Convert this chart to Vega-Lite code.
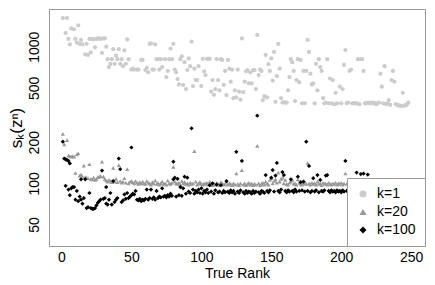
{
"$schema":"https://vega.github.io/schema/vega-lite/v6.json",
"width":376,"height":237,
"autosize":{"type":"none"},
"padding":{"left":49,"top":9,"right":10,"bottom":39},
"config":{"view":{"stroke":"#9a9a9a","strokeWidth":1},"font":"Liberation Sans"},
"data":{"values":[
{"r":1,"v":1620,"k":"k=1"},{"r":3,"v":1260,"k":"k=1"},{"r":4,"v":1620,"k":"k=1"},{"r":5,"v":1140,"k":"k=1"},{"r":6,"v":1040,"k":"k=1"},{"r":7,"v":1360,"k":"k=1"},{"r":9,"v":1340,"k":"k=1"},{"r":10,"v":1140,"k":"k=1"},{"r":11,"v":1070,"k":"k=1"},{"r":12,"v":1430,"k":"k=1"},{"r":13,"v":1050,"k":"k=1"},{"r":14,"v":1120,"k":"k=1"},{"r":15,"v":1040,"k":"k=1"},{"r":17,"v":880,"k":"k=1"},{"r":18,"v":1050,"k":"k=1"},{"r":19,"v":870,"k":"k=1"},{"r":20,"v":1140,"k":"k=1"},{"r":21,"v":910,"k":"k=1"},{"r":22,"v":1140,"k":"k=1"},{"r":23,"v":1130,"k":"k=1"},{"r":24,"v":990,"k":"k=1"},{"r":25,"v":1140,"k":"k=1"},{"r":26,"v":1150,"k":"k=1"},{"r":27,"v":1150,"k":"k=1"},{"r":28,"v":1140,"k":"k=1"},{"r":29,"v":900,"k":"k=1"},{"r":30,"v":1150,"k":"k=1"},{"r":31,"v":1150,"k":"k=1"},{"r":32,"v":1000,"k":"k=1"},{"r":33,"v":810,"k":"k=1"},{"r":34,"v":710,"k":"k=1"},{"r":35,"v":750,"k":"k=1"},{"r":36,"v":810,"k":"k=1"},{"r":37,"v":960,"k":"k=1"},{"r":38,"v":750,"k":"k=1"},{"r":39,"v":860,"k":"k=1"},{"r":40,"v":810,"k":"k=1"},{"r":41,"v":960,"k":"k=1"},{"r":42,"v":750,"k":"k=1"},{"r":43,"v":810,"k":"k=1"},{"r":44,"v":720,"k":"k=1"},{"r":45,"v":940,"k":"k=1"},{"r":46,"v":750,"k":"k=1"},{"r":47,"v":1130,"k":"k=1"},{"r":48,"v":810,"k":"k=1"},{"r":50,"v":680,"k":"k=1"},{"r":51,"v":690,"k":"k=1"},{"r":52,"v":680,"k":"k=1"},{"r":54,"v":680,"k":"k=1"},{"r":55,"v":680,"k":"k=1"},{"r":57,"v":800,"k":"k=1"},{"r":58,"v":800,"k":"k=1"},{"r":60,"v":675,"k":"k=1"},{"r":61,"v":700,"k":"k=1"},{"r":62,"v":650,"k":"k=1"},{"r":63,"v":1050,"k":"k=1"},{"r":64,"v":1060,"k":"k=1"},{"r":65,"v":680,"k":"k=1"},{"r":66,"v":680,"k":"k=1"},{"r":67,"v":1040,"k":"k=1"},{"r":68,"v":810,"k":"k=1"},{"r":69,"v":810,"k":"k=1"},{"r":70,"v":680,"k":"k=1"},{"r":71,"v":810,"k":"k=1"},{"r":72,"v":710,"k":"k=1"},{"r":74,"v":810,"k":"k=1"},{"r":75,"v":600,"k":"k=1"},{"r":76,"v":665,"k":"k=1"},{"r":77,"v":810,"k":"k=1"},{"r":78,"v":970,"k":"k=1"},{"r":79,"v":810,"k":"k=1"},{"r":80,"v":1050,"k":"k=1"},{"r":81,"v":680,"k":"k=1"},{"r":82,"v":650,"k":"k=1"},{"r":83,"v":580,"k":"k=1"},{"r":84,"v":530,"k":"k=1"},{"r":85,"v":810,"k":"k=1"},{"r":86,"v":850,"k":"k=1"},{"r":87,"v":525,"k":"k=1"},{"r":88,"v":770,"k":"k=1"},{"r":89,"v":490,"k":"k=1"},{"r":90,"v":675,"k":"k=1"},{"r":91,"v":820,"k":"k=1"},{"r":92,"v":720,"k":"k=1"},{"r":93,"v":1090,"k":"k=1"},{"r":94,"v":515,"k":"k=1"},{"r":95,"v":690,"k":"k=1"},{"r":96,"v":570,"k":"k=1"},{"r":97,"v":570,"k":"k=1"},{"r":98,"v":720,"k":"k=1"},{"r":100,"v":515,"k":"k=1"},{"r":101,"v":815,"k":"k=1"},{"r":102,"v":660,"k":"k=1"},{"r":103,"v":620,"k":"k=1"},{"r":104,"v":815,"k":"k=1"},{"r":105,"v":815,"k":"k=1"},{"r":106,"v":815,"k":"k=1"},{"r":107,"v":470,"k":"k=1"},{"r":108,"v":570,"k":"k=1"},{"r":109,"v":445,"k":"k=1"},{"r":110,"v":490,"k":"k=1"},{"r":111,"v":810,"k":"k=1"},{"r":112,"v":570,"k":"k=1"},{"r":113,"v":480,"k":"k=1"},{"r":114,"v":810,"k":"k=1"},{"r":115,"v":800,"k":"k=1"},{"r":116,"v":525,"k":"k=1"},{"r":117,"v":665,"k":"k=1"},{"r":118,"v":443,"k":"k=1"},{"r":119,"v":800,"k":"k=1"},{"r":120,"v":690,"k":"k=1"},{"r":121,"v":555,"k":"k=1"},{"r":122,"v":680,"k":"k=1"},{"r":123,"v":420,"k":"k=1"},{"r":124,"v":480,"k":"k=1"},{"r":125,"v":425,"k":"k=1"},{"r":126,"v":680,"k":"k=1"},{"r":127,"v":470,"k":"k=1"},{"r":128,"v":410,"k":"k=1"},{"r":129,"v":1150,"k":"k=1"},{"r":130,"v":465,"k":"k=1"},{"r":131,"v":555,"k":"k=1"},{"r":132,"v":660,"k":"k=1"},{"r":133,"v":675,"k":"k=1"},{"r":134,"v":540,"k":"k=1"},{"r":135,"v":650,"k":"k=1"},{"r":136,"v":540,"k":"k=1"},{"r":137,"v":675,"k":"k=1"},{"r":138,"v":675,"k":"k=1"},{"r":139,"v":490,"k":"k=1"},{"r":140,"v":1220,"k":"k=1"},{"r":141,"v":620,"k":"k=1"},{"r":142,"v":680,"k":"k=1"},{"r":143,"v":665,"k":"k=1"},{"r":144,"v":407,"k":"k=1"},{"r":145,"v":435,"k":"k=1"},{"r":146,"v":870,"k":"k=1"},{"r":147,"v":425,"k":"k=1"},{"r":148,"v":745,"k":"k=1"},{"r":149,"v":665,"k":"k=1"},{"r":150,"v":820,"k":"k=1"},{"r":151,"v":565,"k":"k=1"},{"r":152,"v":915,"k":"k=1"},{"r":153,"v":395,"k":"k=1"},{"r":154,"v":610,"k":"k=1"},{"r":155,"v":1050,"k":"k=1"},{"r":156,"v":690,"k":"k=1"},{"r":157,"v":420,"k":"k=1"},{"r":158,"v":390,"k":"k=1"},{"r":159,"v":392,"k":"k=1"},{"r":160,"v":390,"k":"k=1"},{"r":161,"v":390,"k":"k=1"},{"r":162,"v":480,"k":"k=1"},{"r":163,"v":600,"k":"k=1"},{"r":164,"v":810,"k":"k=1"},{"r":165,"v":770,"k":"k=1"},{"r":166,"v":665,"k":"k=1"},{"r":167,"v":400,"k":"k=1"},{"r":168,"v":570,"k":"k=1"},{"r":169,"v":810,"k":"k=1"},{"r":170,"v":550,"k":"k=1"},{"r":171,"v":800,"k":"k=1"},{"r":172,"v":385,"k":"k=1"},{"r":173,"v":665,"k":"k=1"},{"r":174,"v":385,"k":"k=1"},{"r":175,"v":665,"k":"k=1"},{"r":176,"v":1120,"k":"k=1"},{"r":177,"v":915,"k":"k=1"},{"r":178,"v":635,"k":"k=1"},{"r":179,"v":530,"k":"k=1"},{"r":180,"v":540,"k":"k=1"},{"r":181,"v":385,"k":"k=1"},{"r":182,"v":750,"k":"k=1"},{"r":183,"v":480,"k":"k=1"},{"r":184,"v":810,"k":"k=1"},{"r":185,"v":710,"k":"k=1"},{"r":186,"v":665,"k":"k=1"},{"r":187,"v":420,"k":"k=1"},{"r":188,"v":385,"k":"k=1"},{"r":189,"v":390,"k":"k=1"},{"r":190,"v":810,"k":"k=1"},{"r":191,"v":385,"k":"k=1"},{"r":192,"v":585,"k":"k=1"},{"r":193,"v":385,"k":"k=1"},{"r":194,"v":570,"k":"k=1"},{"r":195,"v":380,"k":"k=1"},{"r":196,"v":460,"k":"k=1"},{"r":197,"v":385,"k":"k=1"},{"r":199,"v":510,"k":"k=1"},{"r":200,"v":385,"k":"k=1"},{"r":201,"v":490,"k":"k=1"},{"r":202,"v":735,"k":"k=1"},{"r":203,"v":945,"k":"k=1"},{"r":204,"v":385,"k":"k=1"},{"r":205,"v":390,"k":"k=1"},{"r":206,"v":665,"k":"k=1"},{"r":207,"v":680,"k":"k=1"},{"r":208,"v":385,"k":"k=1"},{"r":209,"v":385,"k":"k=1"},{"r":210,"v":385,"k":"k=1"},{"r":211,"v":385,"k":"k=1"},{"r":212,"v":810,"k":"k=1"},{"r":213,"v":380,"k":"k=1"},{"r":214,"v":810,"k":"k=1"},{"r":215,"v":810,"k":"k=1"},{"r":216,"v":665,"k":"k=1"},{"r":217,"v":385,"k":"k=1"},{"r":218,"v":385,"k":"k=1"},{"r":219,"v":390,"k":"k=1"},{"r":220,"v":385,"k":"k=1"},{"r":221,"v":390,"k":"k=1"},{"r":222,"v":385,"k":"k=1"},{"r":223,"v":390,"k":"k=1"},{"r":224,"v":385,"k":"k=1"},{"r":225,"v":380,"k":"k=1"},{"r":226,"v":385,"k":"k=1"},{"r":227,"v":390,"k":"k=1"},{"r":228,"v":635,"k":"k=1"},{"r":229,"v":510,"k":"k=1"},{"r":230,"v":385,"k":"k=1"},{"r":231,"v":720,"k":"k=1"},{"r":232,"v":380,"k":"k=1"},{"r":233,"v":385,"k":"k=1"},{"r":234,"v":407,"k":"k=1"},{"r":235,"v":375,"k":"k=1"},{"r":236,"v":570,"k":"k=1"},{"r":237,"v":665,"k":"k=1"},{"r":238,"v":555,"k":"k=1"},{"r":239,"v":380,"k":"k=1"},{"r":240,"v":374,"k":"k=1"},{"r":241,"v":372,"k":"k=1"},{"r":242,"v":370,"k":"k=1"},{"r":243,"v":368,"k":"k=1"},{"r":244,"v":460,"k":"k=1"},{"r":245,"v":370,"k":"k=1"},{"r":246,"v":372,"k":"k=1"},{"r":247,"v":378,"k":"k=1"},{"r":248,"v":390,"k":"k=1"},
{"r":1,"v":230,"k":"k=20"},{"r":2,"v":193,"k":"k=20"},{"r":4,"v":207,"k":"k=20"},{"r":5,"v":160,"k":"k=20"},{"r":6,"v":158,"k":"k=20"},{"r":7,"v":157,"k":"k=20"},{"r":8,"v":158,"k":"k=20"},{"r":9,"v":157,"k":"k=20"},{"r":10,"v":119,"k":"k=20"},{"r":11,"v":163,"k":"k=20"},{"r":12,"v":166,"k":"k=20"},{"r":13,"v":114,"k":"k=20"},{"r":14,"v":116,"k":"k=20"},{"r":15,"v":112,"k":"k=20"},{"r":16,"v":135,"k":"k=20"},{"r":17,"v":111,"k":"k=20"},{"r":18,"v":110,"k":"k=20"},{"r":19,"v":109,"k":"k=20"},{"r":20,"v":138,"k":"k=20"},{"r":21,"v":108,"k":"k=20"},{"r":22,"v":107,"k":"k=20"},{"r":23,"v":110,"k":"k=20"},{"r":24,"v":106,"k":"k=20"},{"r":25,"v":108,"k":"k=20"},{"r":26,"v":111,"k":"k=20"},{"r":27,"v":112,"k":"k=20"},{"r":28,"v":113,"k":"k=20"},{"r":29,"v":144,"k":"k=20"},{"r":30,"v":112,"k":"k=20"},{"r":31,"v":108,"k":"k=20"},{"r":32,"v":105,"k":"k=20"},{"r":33,"v":103,"k":"k=20"},{"r":34,"v":106,"k":"k=20"},{"r":35,"v":104,"k":"k=20"},{"r":36,"v":102,"k":"k=20"},{"r":37,"v":130,"k":"k=20"},{"r":38,"v":103,"k":"k=20"},{"r":39,"v":108,"k":"k=20"},{"r":40,"v":102,"k":"k=20"},{"r":41,"v":136,"k":"k=20"},{"r":42,"v":104,"k":"k=20"},{"r":43,"v":101,"k":"k=20"},{"r":44,"v":103,"k":"k=20"},{"r":45,"v":109,"k":"k=20"},{"r":46,"v":101,"k":"k=20"},{"r":47,"v":127,"k":"k=20"},{"r":48,"v":100,"k":"k=20"},{"r":49,"v":103,"k":"k=20"},{"r":50,"v":104,"k":"k=20"},{"r":51,"v":102,"k":"k=20"},{"r":52,"v":100,"k":"k=20"},{"r":53,"v":104,"k":"k=20"},{"r":54,"v":101,"k":"k=20"},{"r":55,"v":99,"k":"k=20"},{"r":56,"v":102,"k":"k=20"},{"r":57,"v":100,"k":"k=20"},{"r":58,"v":103,"k":"k=20"},{"r":59,"v":100,"k":"k=20"},{"r":60,"v":99,"k":"k=20"},{"r":61,"v":104,"k":"k=20"},{"r":62,"v":101,"k":"k=20"},{"r":63,"v":100,"k":"k=20"},{"r":64,"v":98,"k":"k=20"},{"r":65,"v":102,"k":"k=20"},{"r":66,"v":100,"k":"k=20"},{"r":67,"v":105,"k":"k=20"},{"r":68,"v":99,"k":"k=20"},{"r":69,"v":101,"k":"k=20"},{"r":70,"v":98,"k":"k=20"},{"r":71,"v":100,"k":"k=20"},{"r":72,"v":103,"k":"k=20"},{"r":73,"v":99,"k":"k=20"},{"r":74,"v":100,"k":"k=20"},{"r":75,"v":98,"k":"k=20"},{"r":76,"v":105,"k":"k=20"},{"r":77,"v":100,"k":"k=20"},{"r":78,"v":99,"k":"k=20"},{"r":79,"v":101,"k":"k=20"},{"r":80,"v":132,"k":"k=20"},{"r":81,"v":103,"k":"k=20"},{"r":82,"v":100,"k":"k=20"},{"r":83,"v":99,"k":"k=20"},{"r":84,"v":101,"k":"k=20"},{"r":85,"v":98,"k":"k=20"},{"r":86,"v":104,"k":"k=20"},{"r":87,"v":100,"k":"k=20"},{"r":88,"v":102,"k":"k=20"},{"r":89,"v":99,"k":"k=20"},{"r":90,"v":100,"k":"k=20"},{"r":91,"v":98,"k":"k=20"},{"r":92,"v":101,"k":"k=20"},{"r":93,"v":99,"k":"k=20"},{"r":94,"v":100,"k":"k=20"},{"r":95,"v":172,"k":"k=20"},{"r":96,"v":103,"k":"k=20"},{"r":97,"v":98,"k":"k=20"},{"r":98,"v":100,"k":"k=20"},{"r":99,"v":102,"k":"k=20"},{"r":100,"v":99,"k":"k=20"},{"r":101,"v":98,"k":"k=20"},{"r":102,"v":100,"k":"k=20"},{"r":103,"v":99,"k":"k=20"},{"r":104,"v":101,"k":"k=20"},{"r":105,"v":98,"k":"k=20"},{"r":106,"v":103,"k":"k=20"},{"r":107,"v":99,"k":"k=20"},{"r":108,"v":97,"k":"k=20"},{"r":109,"v":100,"k":"k=20"},{"r":110,"v":98,"k":"k=20"},{"r":111,"v":101,"k":"k=20"},{"r":112,"v":99,"k":"k=20"},{"r":113,"v":97,"k":"k=20"},{"r":114,"v":102,"k":"k=20"},{"r":115,"v":100,"k":"k=20"},{"r":116,"v":98,"k":"k=20"},{"r":117,"v":99,"k":"k=20"},{"r":118,"v":103,"k":"k=20"},{"r":119,"v":98,"k":"k=20"},{"r":120,"v":100,"k":"k=20"},{"r":121,"v":99,"k":"k=20"},{"r":122,"v":97,"k":"k=20"},{"r":123,"v":100,"k":"k=20"},{"r":124,"v":98,"k":"k=20"},{"r":125,"v":118,"k":"k=20"},{"r":126,"v":99,"k":"k=20"},{"r":127,"v":97,"k":"k=20"},{"r":128,"v":100,"k":"k=20"},{"r":129,"v":125,"k":"k=20"},{"r":130,"v":98,"k":"k=20"},{"r":131,"v":100,"k":"k=20"},{"r":132,"v":97,"k":"k=20"},{"r":133,"v":99,"k":"k=20"},{"r":134,"v":101,"k":"k=20"},{"r":135,"v":98,"k":"k=20"},{"r":136,"v":100,"k":"k=20"},{"r":137,"v":97,"k":"k=20"},{"r":138,"v":99,"k":"k=20"},{"r":139,"v":98,"k":"k=20"},{"r":140,"v":188,"k":"k=20"},{"r":141,"v":100,"k":"k=20"},{"r":142,"v":97,"k":"k=20"},{"r":143,"v":99,"k":"k=20"},{"r":144,"v":101,"k":"k=20"},{"r":145,"v":98,"k":"k=20"},{"r":146,"v":103,"k":"k=20"},{"r":147,"v":100,"k":"k=20"},{"r":148,"v":98,"k":"k=20"},{"r":149,"v":106,"k":"k=20"},{"r":150,"v":109,"k":"k=20"},{"r":151,"v":100,"k":"k=20"},{"r":152,"v":104,"k":"k=20"},{"r":153,"v":107,"k":"k=20"},{"r":154,"v":101,"k":"k=20"},{"r":155,"v":120,"k":"k=20"},{"r":156,"v":103,"k":"k=20"},{"r":157,"v":108,"k":"k=20"},{"r":158,"v":110,"k":"k=20"},{"r":159,"v":100,"k":"k=20"},{"r":160,"v":106,"k":"k=20"},{"r":161,"v":99,"k":"k=20"},{"r":162,"v":98,"k":"k=20"},{"r":163,"v":101,"k":"k=20"},{"r":164,"v":103,"k":"k=20"},{"r":165,"v":106,"k":"k=20"},{"r":166,"v":99,"k":"k=20"},{"r":167,"v":100,"k":"k=20"},{"r":168,"v":98,"k":"k=20"},{"r":169,"v":107,"k":"k=20"},{"r":170,"v":101,"k":"k=20"},{"r":171,"v":99,"k":"k=20"},{"r":172,"v":98,"k":"k=20"},{"r":173,"v":100,"k":"k=20"},{"r":174,"v":102,"k":"k=20"},{"r":175,"v":99,"k":"k=20"},{"r":176,"v":141,"k":"k=20"},{"r":177,"v":100,"k":"k=20"},{"r":178,"v":98,"k":"k=20"},{"r":179,"v":101,"k":"k=20"},{"r":180,"v":99,"k":"k=20"},{"r":181,"v":100,"k":"k=20"},{"r":182,"v":98,"k":"k=20"},{"r":183,"v":103,"k":"k=20"},{"r":184,"v":99,"k":"k=20"},{"r":185,"v":100,"k":"k=20"},{"r":186,"v":97,"k":"k=20"},{"r":187,"v":101,"k":"k=20"},{"r":188,"v":99,"k":"k=20"},{"r":189,"v":100,"k":"k=20"},{"r":190,"v":98,"k":"k=20"},{"r":191,"v":101,"k":"k=20"},{"r":192,"v":99,"k":"k=20"},{"r":193,"v":98,"k":"k=20"},{"r":194,"v":100,"k":"k=20"},{"r":195,"v":99,"k":"k=20"},{"r":196,"v":101,"k":"k=20"},{"r":197,"v":98,"k":"k=20"},{"r":198,"v":100,"k":"k=20"},{"r":199,"v":99,"k":"k=20"},{"r":200,"v":101,"k":"k=20"},{"r":201,"v":98,"k":"k=20"},{"r":202,"v":100,"k":"k=20"},{"r":203,"v":118,"k":"k=20"},{"r":204,"v":99,"k":"k=20"},{"r":205,"v":101,"k":"k=20"},
{"r":1,"v":202,"k":"k=100"},{"r":2,"v":152,"k":"k=100"},{"r":3,"v":150,"k":"k=100"},{"r":4,"v":148,"k":"k=100"},{"r":5,"v":146,"k":"k=100"},{"r":6,"v":140,"k":"k=100"},{"r":3,"v":96,"k":"k=100"},{"r":5,"v":90,"k":"k=100"},{"r":6,"v":82,"k":"k=100"},{"r":7,"v":92,"k":"k=100"},{"r":8,"v":94,"k":"k=100"},{"r":9,"v":94,"k":"k=100"},{"r":10,"v":76,"k":"k=100"},{"r":11,"v":88,"k":"k=100"},{"r":12,"v":74,"k":"k=100"},{"r":13,"v":80,"k":"k=100"},{"r":14,"v":76,"k":"k=100"},{"r":14,"v":107,"k":"k=100"},{"r":15,"v":71,"k":"k=100"},{"r":16,"v":78,"k":"k=100"},{"r":17,"v":107,"k":"k=100"},{"r":18,"v":66,"k":"k=100"},{"r":19,"v":67,"k":"k=100"},{"r":20,"v":85,"k":"k=100"},{"r":21,"v":66,"k":"k=100"},{"r":22,"v":65,"k":"k=100"},{"r":23,"v":65,"k":"k=100"},{"r":24,"v":66,"k":"k=100"},{"r":25,"v":69,"k":"k=100"},{"r":26,"v":72,"k":"k=100"},{"r":27,"v":74,"k":"k=100"},{"r":28,"v":76,"k":"k=100"},{"r":29,"v":124,"k":"k=100"},{"r":30,"v":77,"k":"k=100"},{"r":31,"v":78,"k":"k=100"},{"r":32,"v":94,"k":"k=100"},{"r":32,"v":71,"k":"k=100"},{"r":33,"v":70,"k":"k=100"},{"r":34,"v":76,"k":"k=100"},{"r":35,"v":85,"k":"k=100"},{"r":36,"v":70,"k":"k=100"},{"r":37,"v":104,"k":"k=100"},{"r":38,"v":73,"k":"k=100"},{"r":39,"v":76,"k":"k=100"},{"r":40,"v":78,"k":"k=100"},{"r":41,"v":152,"k":"k=100"},{"r":42,"v":127,"k":"k=100"},{"r":43,"v":73,"k":"k=100"},{"r":44,"v":75,"k":"k=100"},{"r":45,"v":83,"k":"k=100"},{"r":46,"v":77,"k":"k=100"},{"r":47,"v":85,"k":"k=100"},{"r":48,"v":78,"k":"k=100"},{"r":49,"v":80,"k":"k=100"},{"r":50,"v":183,"k":"k=100"},{"r":50,"v":82,"k":"k=100"},{"r":51,"v":84,"k":"k=100"},{"r":52,"v":83,"k":"k=100"},{"r":53,"v":88,"k":"k=100"},{"r":54,"v":76,"k":"k=100"},{"r":55,"v":75,"k":"k=100"},{"r":56,"v":77,"k":"k=100"},{"r":57,"v":74,"k":"k=100"},{"r":58,"v":76,"k":"k=100"},{"r":59,"v":75,"k":"k=100"},{"r":60,"v":77,"k":"k=100"},{"r":61,"v":90,"k":"k=100"},{"r":62,"v":76,"k":"k=100"},{"r":63,"v":78,"k":"k=100"},{"r":64,"v":90,"k":"k=100"},{"r":65,"v":77,"k":"k=100"},{"r":66,"v":79,"k":"k=100"},{"r":67,"v":76,"k":"k=100"},{"r":68,"v":88,"k":"k=100"},{"r":69,"v":78,"k":"k=100"},{"r":70,"v":80,"k":"k=100"},{"r":71,"v":79,"k":"k=100"},{"r":72,"v":92,"k":"k=100"},{"r":73,"v":80,"k":"k=100"},{"r":74,"v":81,"k":"k=100"},{"r":75,"v":79,"k":"k=100"},{"r":76,"v":82,"k":"k=100"},{"r":77,"v":80,"k":"k=100"},{"r":78,"v":84,"k":"k=100"},{"r":79,"v":81,"k":"k=100"},{"r":80,"v":144,"k":"k=100"},{"r":80,"v":107,"k":"k=100"},{"r":81,"v":110,"k":"k=100"},{"r":82,"v":80,"k":"k=100"},{"r":83,"v":108,"k":"k=100"},{"r":84,"v":82,"k":"k=100"},{"r":85,"v":94,"k":"k=100"},{"r":86,"v":81,"k":"k=100"},{"r":87,"v":92,"k":"k=100"},{"r":88,"v":112,"k":"k=100"},{"r":89,"v":84,"k":"k=100"},{"r":90,"v":110,"k":"k=100"},{"r":91,"v":87,"k":"k=100"},{"r":92,"v":85,"k":"k=100"},{"r":93,"v":253,"k":"k=100"},{"r":94,"v":90,"k":"k=100"},{"r":95,"v":84,"k":"k=100"},{"r":96,"v":88,"k":"k=100"},{"r":97,"v":86,"k":"k=100"},{"r":98,"v":90,"k":"k=100"},{"r":99,"v":85,"k":"k=100"},{"r":100,"v":92,"k":"k=100"},{"r":101,"v":84,"k":"k=100"},{"r":102,"v":88,"k":"k=100"},{"r":103,"v":86,"k":"k=100"},{"r":104,"v":90,"k":"k=100"},{"r":105,"v":85,"k":"k=100"},{"r":106,"v":97,"k":"k=100"},{"r":107,"v":87,"k":"k=100"},{"r":108,"v":100,"k":"k=100"},{"r":109,"v":84,"k":"k=100"},{"r":110,"v":89,"k":"k=100"},{"r":111,"v":98,"k":"k=100"},{"r":112,"v":86,"k":"k=100"},{"r":113,"v":87,"k":"k=100"},{"r":114,"v":97,"k":"k=100"},{"r":115,"v":85,"k":"k=100"},{"r":116,"v":88,"k":"k=100"},{"r":117,"v":86,"k":"k=100"},{"r":118,"v":104,"k":"k=100"},{"r":119,"v":87,"k":"k=100"},{"r":120,"v":85,"k":"k=100"},{"r":121,"v":89,"k":"k=100"},{"r":122,"v":86,"k":"k=100"},{"r":123,"v":88,"k":"k=100"},{"r":124,"v":84,"k":"k=100"},{"r":125,"v":170,"k":"k=100"},{"r":126,"v":87,"k":"k=100"},{"r":127,"v":85,"k":"k=100"},{"r":128,"v":89,"k":"k=100"},{"r":129,"v":146,"k":"k=100"},{"r":130,"v":86,"k":"k=100"},{"r":131,"v":84,"k":"k=100"},{"r":132,"v":88,"k":"k=100"},{"r":133,"v":85,"k":"k=100"},{"r":134,"v":87,"k":"k=100"},{"r":135,"v":86,"k":"k=100"},{"r":136,"v":84,"k":"k=100"},{"r":137,"v":88,"k":"k=100"},{"r":138,"v":85,"k":"k=100"},{"r":139,"v":87,"k":"k=100"},{"r":140,"v":313,"k":"k=100"},{"r":141,"v":86,"k":"k=100"},{"r":142,"v":84,"k":"k=100"},{"r":143,"v":88,"k":"k=100"},{"r":144,"v":87,"k":"k=100"},{"r":145,"v":85,"k":"k=100"},{"r":146,"v":115,"k":"k=100"},{"r":147,"v":88,"k":"k=100"},{"r":148,"v":86,"k":"k=100"},{"r":149,"v":89,"k":"k=100"},{"r":150,"v":110,"k":"k=100"},{"r":151,"v":125,"k":"k=100"},{"r":152,"v":87,"k":"k=100"},{"r":153,"v":114,"k":"k=100"},{"r":154,"v":141,"k":"k=100"},{"r":155,"v":88,"k":"k=100"},{"r":156,"v":86,"k":"k=100"},{"r":157,"v":90,"k":"k=100"},{"r":158,"v":121,"k":"k=100"},{"r":159,"v":115,"k":"k=100"},{"r":160,"v":88,"k":"k=100"},{"r":161,"v":86,"k":"k=100"},{"r":162,"v":89,"k":"k=100"},{"r":163,"v":87,"k":"k=100"},{"r":164,"v":107,"k":"k=100"},{"r":165,"v":88,"k":"k=100"},{"r":166,"v":86,"k":"k=100"},{"r":167,"v":90,"k":"k=100"},{"r":168,"v":87,"k":"k=100"},{"r":169,"v":112,"k":"k=100"},{"r":170,"v":88,"k":"k=100"},{"r":171,"v":102,"k":"k=100"},{"r":172,"v":89,"k":"k=100"},{"r":173,"v":103,"k":"k=100"},{"r":174,"v":87,"k":"k=100"},{"r":175,"v":202,"k":"k=100"},{"r":176,"v":88,"k":"k=100"},{"r":177,"v":134,"k":"k=100"},{"r":178,"v":86,"k":"k=100"},{"r":179,"v":88,"k":"k=100"},{"r":180,"v":109,"k":"k=100"},{"r":181,"v":87,"k":"k=100"},{"r":182,"v":89,"k":"k=100"},{"r":183,"v":115,"k":"k=100"},{"r":184,"v":86,"k":"k=100"},{"r":185,"v":106,"k":"k=100"},{"r":186,"v":88,"k":"k=100"},{"r":187,"v":87,"k":"k=100"},{"r":188,"v":89,"k":"k=100"},{"r":189,"v":114,"k":"k=100"},{"r":190,"v":115,"k":"k=100"},{"r":191,"v":88,"k":"k=100"},{"r":192,"v":86,"k":"k=100"},{"r":193,"v":89,"k":"k=100"},{"r":194,"v":87,"k":"k=100"},{"r":195,"v":88,"k":"k=100"},{"r":196,"v":86,"k":"k=100"},{"r":197,"v":89,"k":"k=100"},{"r":198,"v":87,"k":"k=100"},{"r":199,"v":88,"k":"k=100"},{"r":200,"v":86,"k":"k=100"},{"r":201,"v":89,"k":"k=100"},{"r":202,"v":87,"k":"k=100"},{"r":203,"v":146,"k":"k=100"},{"r":204,"v":88,"k":"k=100"},{"r":205,"v":90,"k":"k=100"},{"r":211,"v":120,"k":"k=100"},{"r":214,"v":117,"k":"k=100"},{"r":216,"v":118,"k":"k=100"},{"r":219,"v":116,"k":"k=100"}
]},
"mark":{"type":"point","filled":true,"size":18,"opacity":1},
"encoding":{
"x":{"field":"r","type":"quantitative","scale":{"domain":[-8.9,259.9],"nice":false,"zero":false},
"axis":{"values":[0,50,100,150,200,250],"title":"True Rank","grid":false,"ticks":false,"domain":false,"labelFontSize":14,"titleFontSize":14,"titleFontWeight":"normal","labelPadding":4,"titlePadding":2,"labelColor":"#000000","titleColor":"#000000","labelFlush":false}},
"y":{"field":"v","type":"quantitative","scale":{"type":"log","domain":[34.8,1888],"nice":false},
"axis":{"values":[50,100,200,500,1000],"title":"sₖ(zⁿ)","grid":false,"ticks":false,"domain":false,"labelFontSize":14,"titleFontSize":17,"titleFontWeight":"normal","labelAngle":270,"labelAlign":"center","labelBaseline":"bottom","labelPadding":8,"titlePadding":2,"labelColor":"#000000","titleColor":"#000000","labelFlush":false,"format":"d"}},
"color":{"field":"k","type":"nominal","scale":{"domain":["k=1","k=20","k=100"],"range":["#cccccc","#999999","#000000"]},
"legend":{"title":null,"orient":"bottom-right","offset":0,"padding":9,"strokeColor":"#9a9a9a","fillColor":"#ffffff","labelFontSize":14,"labelColor":"#000000","symbolSize":50,"labelOffset":7,"rowPadding":4,"symbolStrokeWidth":0,"cornerRadius":0}},
"shape":{"field":"k","type":"nominal","scale":{"domain":["k=1","k=20","k=100"],"range":["circle","triangle-up","diamond"]}}
}
}
